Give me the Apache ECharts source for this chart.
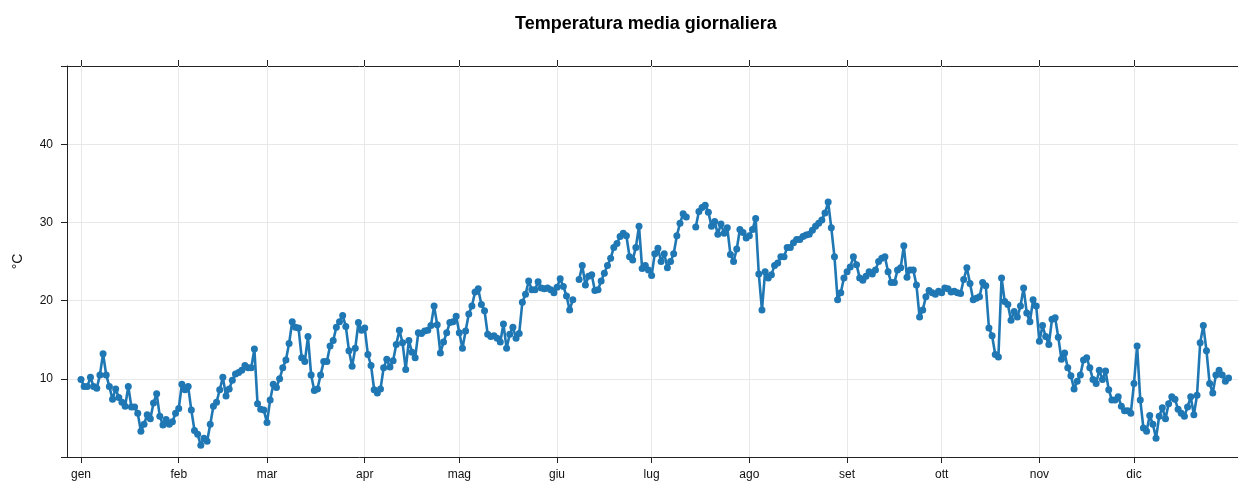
<!DOCTYPE html>
<html>
<head>
<meta charset="utf-8">
<script src="https://cdn.jsdelivr.net/npm/echarts@6/dist/echarts.min.js"></script>
<style>
  html, body { margin: 0; padding: 0; background: #ffffff; }
  #chart { width: 1238px; height: 484px; }
</style>
</head>
<body>
<div id="chart"></div>
<script>
// Daily mean temperature (°C), one value per day of the year; null = missing day
const temps = [
  9.9, 9.0, 9.0, 10.2, 9.0, 8.8, 10.5, 13.2, 10.5, 9.0,
  7.4, 8.7, 7.6, 7.0, 6.5, 9.0, 6.4, 6.4, 5.6, 3.3,
  4.2, 5.4, 4.9, 6.9, 8.1, 5.2, 4.1, 4.8, 4.2, 4.5,
  5.6, 6.2, 9.3, 8.6, 9.0, 6.0, 3.4, 2.9, 1.5, 2.4,
  2.0, 4.2, 6.5, 7.0, 8.6, 10.2, 7.8, 8.7, 9.8, 10.6,
  10.8, 11.1, 11.7, 11.4, 11.4, 13.8, 6.8, 6.1, 6.0, 4.4,
  7.3, 9.3, 8.9, 10.0, 11.4, 12.4, 14.5, 17.3, 16.6, 16.5,
  12.7, 12.2, 15.4, 10.5, 8.5, 8.7, 10.5, 12.2, 12.2, 14.2,
  14.9, 16.6, 17.3, 18.1, 16.7, 13.6, 11.6, 13.9, 17.2, 16.2,
  16.5, 13.1, 11.7, 8.6, 8.2, 8.7, 11.4, 12.5, 11.5, 12.3,
  14.4, 16.2, 14.6, 11.2, 14.9, 13.4, 12.7, 15.9, 15.8, 16.1,
  16.2, 16.8, 19.3, 16.9, 13.3, 14.7, 15.9, 17.2, 17.3, 18.0,
  15.9, 13.9, 16.1, 18.3, 19.3, 21.1, 21.5, 19.5, 18.7, 15.7,
  15.4, 15.5, 15.2, 14.7, 17.0, 13.9, 15.7, 16.6, 15.2, 15.8,
  19.8, 20.8, 22.5, 21.4, 21.4, 22.4, 21.6, 21.5, 21.6, 21.4,
  21.0, 21.7, 22.8, 21.8, 20.6, 18.8, 20.1, null, 22.7, 24.5,
  22.0, 23.1, 23.3, 21.3, 21.4, 22.5, 23.5, 24.5, 25.4, 26.8,
  27.3, 28.2, 28.6, 28.3, 25.6, 25.2, 26.8, 29.5, 24.1, 24.5,
  23.9, 23.2, 26.0, 26.7, 25.0, 26.0, 24.2, 25.0, 26.0, 28.3,
  29.9, 31.1, 30.7, null, null, 29.4, 31.4, 31.9, 32.2, 31.3,
  29.5, 30.1, 28.5, 29.8, 28.6, 29.3, 25.9, 25.0, 26.6, 29.1,
  28.7, 28.0, 28.3, 29.1, 30.5, 23.4, 18.8, 23.7, 22.9, 23.3,
  24.5, 24.8, 25.6, 25.6, 26.8, 26.8, 27.4, 27.8, 27.8, 28.2,
  28.4, 28.5, 29.0, 29.5, 29.9, 30.3, 31.2, 32.6, 29.3, 25.6,
  20.1, 21.0, 22.9, 23.7, 24.3, 25.6, 24.6, 22.9, 22.6, 23.1,
  23.7, 23.4, 23.9, 25.0, 25.4, 25.6, 23.7, 22.3, 22.3, 23.9,
  24.2, 27.0, 23.0, 23.9, 23.9, 22.0, 17.9, 18.8, 20.5, 21.3,
  21.0, 20.8, 21.2, 21.0, 21.6, 21.5, 21.1, 21.2, 21.0, 20.9,
  22.7, 24.2, 22.2, 20.1, 20.3, 20.5, 22.3, 21.9, 16.5, 15.5,
  13.1, 12.8, 22.9, 19.9, 19.5, 17.5, 18.6, 17.9, 19.3, 21.6,
  18.4, 17.3, 20.1, 19.3, 14.8, 16.8, 15.4, 14.4, 17.6, 17.8,
  15.3, 12.5, 13.3, 11.4, 10.4, 8.7, 9.7, 10.5, 12.4, 12.7,
  11.4, 9.9, 9.4, 11.1, 9.9, 11.0, 8.6, 7.3, 7.3, 7.7,
  6.5, 5.9, 5.9, 5.6, 9.4, 14.2, 7.3, 3.7, 3.3, 5.3,
  4.2, 2.4, 5.2, 6.3, 4.9, 6.8, 7.7, 7.4, 6.1, 5.6,
  5.2, 6.4, 7.7, 5.4, 7.9, 14.6, 16.8, 13.6, 9.4, 8.2,
  10.5, 11.1, 10.5, 9.7, 10.1
];

// First day (0-based day of year) of each month and its label
const monthStartDays = [0, 31, 59, 90, 120, 151, 181, 212, 243, 273, 304, 334];
const monthLabels = ['gen', 'feb', 'mar', 'apr', 'mag', 'giu', 'lug', 'ago', 'set', 'ott', 'nov', 'dic'];

// Labelled temperature ticks
const yTicks = [10, 20, 30, 40];

const chartTitle = 'Temperatura media giornaliera';
const yName = '°C';

const seriesData = temps.map((v, i) => [i, v === null ? '-' : v]);

const axisColor = '#222222';
const gridColor = '#e8e8e8';
const lineColor = '#1f77b4';
const fontFamily = '"Liberation Sans", Arial, sans-serif';

const chart = echarts.init(document.getElementById('chart'), null, { renderer: 'canvas' });

chart.setOption({
  animation: false,
  backgroundColor: '#ffffff',
  title: {
    text: chartTitle,
    left: 641,
    textAlign: 'center',
    top: 10,
    textStyle: { fontFamily, fontSize: 18, fontWeight: 'bold', color: '#000000' }
  },
  grid: { left: 67, right: 0, top: 66, bottom: 27, containLabel: false },
  xAxis: [
    {
      type: 'value',
      position: 'bottom',
      min: -4.44,
      max: 367,
      axisLine: { show: true, onZero: false, lineStyle: { color: axisColor, width: 1 } },
      axisTick: { show: true, length: 6, customValues: monthStartDays, lineStyle: { color: axisColor } },
      axisLabel: {
        show: true,
        customValues: monthStartDays,
        formatter: (v) => monthLabels[monthStartDays.indexOf(Math.round(v))] || '',
        color: '#111111',
        fontFamily,
        fontSize: 12,
        margin: 12
      },
      splitLine: { show: false }
    },
    {
      type: 'value',
      position: 'top',
      min: -4.44,
      max: 367,
      axisLine: { show: true, onZero: false, lineStyle: { color: axisColor, width: 1 } },
      axisTick: { show: true, length: 6, customValues: monthStartDays, lineStyle: { color: axisColor } },
      axisLabel: { show: false },
      splitLine: { show: false }
    }
  ],
  yAxis: {
    type: 'value',
    min: 0,
    max: 50,
    interval: 10,
    name: yName,
    nameLocation: 'middle',
    nameRotate: 90,
    nameGap: 42,
    nameTextStyle: { fontFamily, fontSize: 14, color: '#111111' },
    axisLine: { show: true, onZero: false, lineStyle: { color: axisColor, width: 1 } },
    axisTick: { show: true, length: 6, lineStyle: { color: axisColor } },
    axisLabel: {
      show: true,
      formatter: (v) => (yTicks.indexOf(v) >= 0 ? String(v) : ''),
      color: '#111111',
      fontFamily,
      fontSize: 12,
      margin: 14
    },
    splitLine: { show: true, lineStyle: { color: gridColor, width: 1 } }
  },
  series: [
    {
      // vertical grid line at the start of every month
      type: 'line',
      data: [],
      silent: true,
      z: 1,
      markLine: {
        silent: true,
        z: 1,
        symbol: 'none',
        label: { show: false },
        emphasis: { disabled: true },
        lineStyle: { color: gridColor, width: 1, type: 'solid' },
        data: monthStartDays.map(d => ({ xAxis: d }))
      }
    },
    {
      name: yName,
      type: 'line',
      data: seriesData,
      connectNulls: false,
      symbol: 'circle',
      symbolSize: 7,
      showSymbol: true,
      itemStyle: { color: lineColor },
      lineStyle: { color: lineColor, width: 2.6 },
      z: 3
    }
  ]
});
</script>
</body>
</html>
